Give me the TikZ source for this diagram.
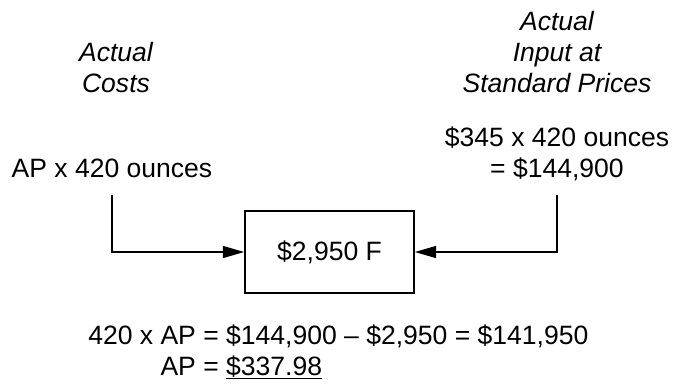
\documentclass[tikz,border=0pt]{standalone}
\usepackage{fontspec}
\setmainfont{Liberation Sans}
\usetikzlibrary{arrows.meta,calc}
\begin{document}
\begin{tikzpicture}[x=0.75pt,y=-0.75pt,
  font=\fontsize{19.9}{23.25}\selectfont,
  txt/.style={inner sep=0pt, align=center, anchor=base},
  ttl/.style={txt, font=\fontsize{19.9}{23.25}\selectfont\itshape},
  resbox/.style={draw, line width=1.3pt, minimum width=126.75pt, minimum height=61.5pt, inner sep=0pt},
  conn/.style={line width=1.2pt, -{Triangle[length=16pt,width=9pt]}}]
\useasboundingbox (0,0) rectangle (673,383);
\node[ttl] (tl) at (116,92) {Actual\\Costs};
\node[ttl] (tr) at (557,92) {Actual\\Input at\\Standard Prices};
\node[txt] (lcost) at (112,177) {AP x 420 ounces};
\node[txt] (rcost) at (557,177) {\$345 x 420 ounces\\= \$144,900};
\node[resbox] (box) at (329.5,252) {\$2,950 F};
\node[inner sep=0pt, align=left, anchor=base west] (calc) at (88,375)
  {420 x AP = \$144,900 -- \$2,950 = \$141,950\\\phantom{420 x }AP = \underline{\$337.98}};
\draw[conn] ($(lcost.base)+(0,18)$) |- (box.west);
\draw[conn] ($(rcost.base)+(0,18)$) |- (box.east);
\end{tikzpicture}
\end{document}
